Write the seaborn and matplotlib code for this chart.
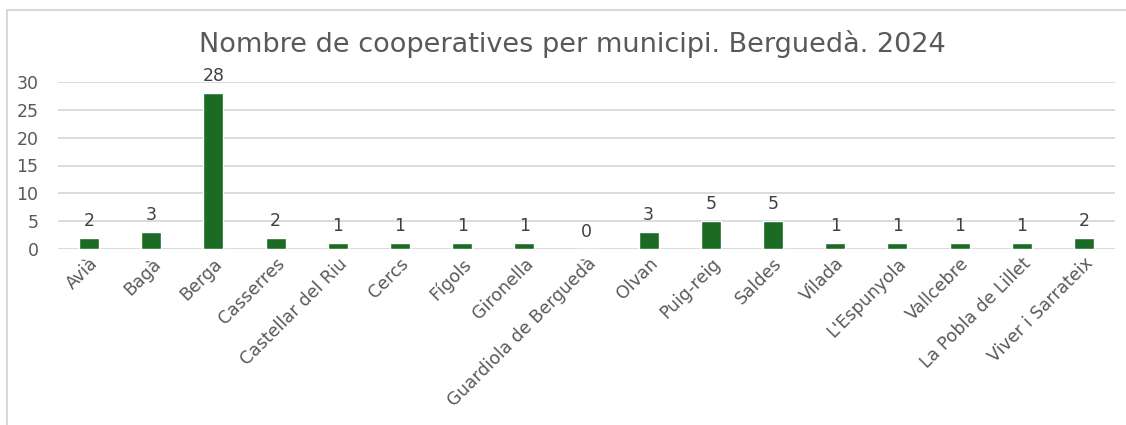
import numpy as np
import pandas as pd
import matplotlib.pyplot as plt
import matplotlib.lines as mlines
import seaborn as sns

# Data
municipis = ["Avià", "Bagà", "Berga", "Casserres", "Castellar del Riu", "Cercs", "Fígols",
             "Gironella", "Guardiola de Berguedà", "Olvan", "Puig-reig", "Saldes", "Vilada",
             "L'Espunyola", "Vallcebre", "La Pobla de Lillet", "Viver i Sarrateix"]
cooperatives = [2, 3, 28, 2, 1, 1, 1, 1, 0, 3, 5, 5, 1, 1, 1, 1, 2]

df = pd.DataFrame({"Municipi": municipis, "Cooperatives": cooperatives})

sns.set_style("white")
plt.rcParams["font.family"] = ["DejaVu Sans"]

fig = plt.figure(figsize=(11.26, 4.25), dpi=100)
ax = fig.add_axes([58 / 1126, 1 - 249 / 425, (1115 - 58) / 1126, (249 - 82) / 425])

sns.barplot(data=df, x="Municipi", y="Cooperatives", color="#1c6b25", width=0.32,
            saturation=1, ax=ax)

ax.set_ylim(0, 30)
ax.set_xlim(-0.5, len(municipis) - 0.5)
ax.set_yticks(range(0, 31, 5))
ax.grid(True, axis="y", color="#d9d9d9", linewidth=1.3)
ax.set_axisbelow(True)
for s in ax.spines.values():
    s.set_visible(False)
ax.tick_params(axis="both", length=0, colors="#595959", labelsize=12.5)
ax.tick_params(axis="y", pad=14)
ax.tick_params(axis="x", pad=4)
plt.setp(ax.get_xticklabels(), rotation=45, ha="right", rotation_mode="anchor")
ax.set_xlabel("")
ax.set_ylabel("")

# value labels
for i, v in enumerate(cooperatives):
    ax.annotate(str(v), (i, v), xytext=(0, 6), textcoords="offset points",
                ha="center", va="bottom", fontsize=12.5, color="#404040")

fig.text(572 / 1126, 1 - 44 / 425, "Nombre de cooperatives per municipi. Berguedà. 2024",
         ha="center", va="center", fontsize=19.5, color="#595959")

# chart border (left and top edges only visible)
x0 = 7 / 1126
y0 = 1 - 10 / 425
fig.lines.append(mlines.Line2D([x0, x0], [0, y0], transform=fig.transFigure,
                               color="#d9d9d9", linewidth=1.5))
fig.lines.append(mlines.Line2D([x0, 1], [y0, y0], transform=fig.transFigure,
                               color="#d9d9d9", linewidth=1.5))

fig.savefig("out.png", dpi=100)
